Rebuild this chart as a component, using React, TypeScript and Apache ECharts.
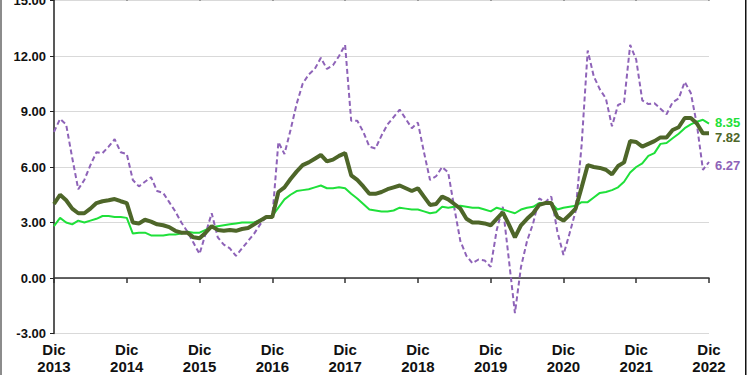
import React, { useEffect, useRef } from "react";
import * as echarts from "echarts";

const years = [2013, 2014, 2015, 2016, 2017, 2018, 2019, 2020, 2021, 2022];

const purple = [
  7.9, 8.6, 8.3, 6.5, 4.8, 5.3, 6.1, 6.8, 6.75, 7.1, 7.5, 6.8,
  6.7, 5.3, 4.95, 5.2, 5.45, 4.7, 4.6, 4.1, 3.6, 3.0, 2.5, 1.9,
  1.3, 2.4, 3.5, 2.2, 1.8, 1.6, 1.2, 1.6, 2.0, 2.4, 2.9, 3.3,
  3.3, 7.35, 6.7, 8.0, 9.4, 10.5, 11.0, 11.3, 11.9, 11.3, 11.5, 12.0,
  12.6, 8.5, 8.5, 7.9, 7.1, 7.0, 7.7, 8.3, 8.7, 9.1, 8.6, 8.1,
  8.4, 6.8, 5.3, 5.5, 6.0, 5.7, 3.8, 2.0, 1.2, 0.8, 1.0, 0.95,
  0.6, 2.6, 3.85, 1.0, -1.9, 0.6, 2.0, 2.95, 4.3, 4.1, 4.4, 2.5,
  1.25, 2.4, 3.6, 7.2, 12.3, 10.9, 10.2, 9.7, 8.2, 9.35, 9.5, 12.6,
  11.8, 9.6, 9.4, 9.45, 9.15, 8.85, 9.5, 9.7, 10.6, 10.0, 8.3, 5.85,
  6.27,
];

const darkGreen = [
  4.0, 4.5, 4.2, 3.75, 3.5, 3.5, 3.75, 4.05, 4.15, 4.2, 4.27, 4.15,
  4.05, 3.0, 2.95, 3.15, 3.05, 2.9, 2.85, 2.75, 2.55, 2.45, 2.45, 2.2,
  2.15, 2.45, 2.8, 2.6, 2.55, 2.6, 2.55, 2.65, 2.7, 2.9, 3.1, 3.3,
  3.3, 4.65, 4.9, 5.35, 5.75, 6.1, 6.25, 6.45, 6.65, 6.3, 6.4, 6.6,
  6.75, 5.55, 5.3, 4.95, 4.55, 4.55, 4.65, 4.8, 4.9, 5.0, 4.85, 4.7,
  4.85, 4.4, 3.95, 4.0, 4.4, 4.25, 4.0, 3.75, 3.2, 3.0, 3.0, 2.95,
  2.85, 3.2, 3.55, 2.9, 2.2, 2.85, 3.2, 3.5, 3.95, 4.05, 4.05, 3.3,
  3.1, 3.4, 3.75, 4.9, 6.1, 6.0, 5.95, 5.85, 5.6, 6.05, 6.25, 7.4,
  7.35, 7.1, 7.25, 7.4, 7.6, 7.6, 8.0, 8.15, 8.65, 8.65, 8.35, 7.82,
  7.82,
];

const lightGreen = [
  2.8, 3.25, 3.0, 2.9, 3.1, 3.0, 3.1, 3.2, 3.35, 3.35, 3.3, 3.3,
  3.25, 2.4, 2.45, 2.45, 2.3, 2.3, 2.3, 2.35, 2.35, 2.4, 2.5, 2.45,
  2.45, 2.6, 2.75, 2.8, 2.85, 2.9, 2.95, 3.0, 3.0, 3.0, 3.15, 3.25,
  3.35, 3.8, 4.25, 4.5, 4.7, 4.75, 4.8, 4.9, 5.0, 4.85, 4.85, 4.9,
  4.85, 4.55, 4.3, 4.0, 3.7, 3.65, 3.6, 3.6, 3.65, 3.8, 3.75, 3.7,
  3.7, 3.6, 3.5, 3.55, 3.85, 3.8, 3.85, 3.9, 3.85, 3.8, 3.8, 3.7,
  3.6, 3.8, 3.7, 3.6, 3.5, 3.7, 3.8, 3.85, 4.05, 4.05, 4.05, 3.7,
  3.8, 3.85, 3.9, 4.1, 4.1, 4.35, 4.6, 4.65, 4.75, 4.9, 5.2, 5.7,
  6.0, 6.2, 6.6, 6.75, 7.25, 7.3, 7.55, 7.8, 8.1, 8.3, 8.45, 8.55,
  8.35,
];

// monthly categories: Dic 2013 ... Dic 2022
const monthNames = ["Ene", "Feb", "Mar", "Abr", "May", "Jun", "Jul", "Ago", "Sep", "Oct", "Nov", "Dic"];
const categories: string[] = ["Dic " + years[0]];
for (let k = 1; k < years.length; k++) {
  monthNames.forEach((m) => categories.push(m + " " + years[k]));
}

const FONT = "Arial, 'Liberation Sans', sans-serif";

export default function App() {
  const ref = useRef<HTMLDivElement>(null);
  useEffect(() => {
    if (!ref.current) return;
    const chart = echarts.init(ref.current, null, { renderer: "svg" });
    chart.setOption({
      animation: false,
      backgroundColor: "#ffffff",
      grid: { left: 54, right: 41, top: 0.5, height: 333, containLabel: false, outerBoundsMode: "none" },
      xAxis: [
        {
          type: "category",
          data: categories,
          boundaryGap: false,
          position: "bottom",
          axisLine: { onZero: true, lineStyle: { color: "#333333", width: 1.5 } },
          axisTick: { show: true, interval: 11, length: 5, lineStyle: { color: "#333333", width: 1.5 } },
          axisLabel: {
            interval: 11,
            margin: 7,
            fontFamily: FONT,
            fontWeight: "bold",
            fontSize: 15,
            lineHeight: 17,
            color: "#111111",
            formatter: (v: string) => {
              const p = v.split(" ");
              return p[0] + "\n" + p[1];
            },
          },
          splitLine: { show: false },
        },
        {
          type: "category",
          data: categories,
          boundaryGap: false,
          position: "top",
          axisLine: { show: false, onZero: true },
          axisTick: { show: true, interval: 11, length: 5, lineStyle: { color: "#333333", width: 1.5 } },
          axisLabel: { show: false },
          splitLine: { show: false },
        },
      ],
      yAxis: {
        type: "value",
        min: -3,
        max: 15,
        interval: 3,
        axisLine: { show: true, lineStyle: { color: "#222222", width: 1.5 } },
        axisTick: { show: true, length: 4, lineStyle: { color: "#222222" } },
        axisLabel: {
          margin: 8,
          fontFamily: FONT,
          fontWeight: "bold",
          fontSize: 13,
          color: "#111111",
          formatter: (v: number) => v.toFixed(2),
        },
        splitLine: { show: true, lineStyle: { color: "#d9d9d9", width: 1 } },
      },
      series: [
        {
          type: "line",
          data: purple,
          symbol: "none",
          lineStyle: { color: "#8E63B8", width: 2, type: [5, 3] },
          endLabel: {
            show: true,
            formatter: (p: any) => Number(p.value).toFixed(2),
            color: "#8E63B8",
            fontFamily: FONT,
            fontWeight: "bold",
            fontSize: 13,
            distance: 6,
            offset: [0, 3],
          },
          z: 2,
        },
        {
          type: "line",
          data: lightGreen,
          symbol: "none",
          lineStyle: { color: "#1FE03A", width: 2 },
          endLabel: {
            show: true,
            formatter: (p: any) => Number(p.value).toFixed(2),
            color: "#1FE03A",
            fontFamily: FONT,
            fontWeight: "bold",
            fontSize: 13,
            distance: 6,
            offset: [0, -1],
          },
          z: 3,
        },
        {
          type: "line",
          data: darkGreen,
          symbol: "none",
          lineStyle: { color: "#4E6629", width: 4 },
          endLabel: {
            show: true,
            formatter: (p: any) => Number(p.value).toFixed(2),
            color: "#4E6629",
            fontFamily: FONT,
            fontWeight: "bold",
            fontSize: 13,
            distance: 6,
            offset: [0, 4],
          },
          z: 4,
        },
      ],
      graphic: [
        { type: "rect", left: 0, top: 0, shape: { width: 2, height: 375 }, style: { fill: "#8c8c8c" } },
        { type: "rect", left: 745, top: 0, shape: { width: 1.5, height: 375 }, style: { fill: "#111111" } },
      ],
    });
    return () => chart.dispose();
  }, []);
  return (
    <div
      ref={ref}
      style={{ position: "absolute", left: 0, top: 0, width: 750, height: 375 }}
    />
  );
}
